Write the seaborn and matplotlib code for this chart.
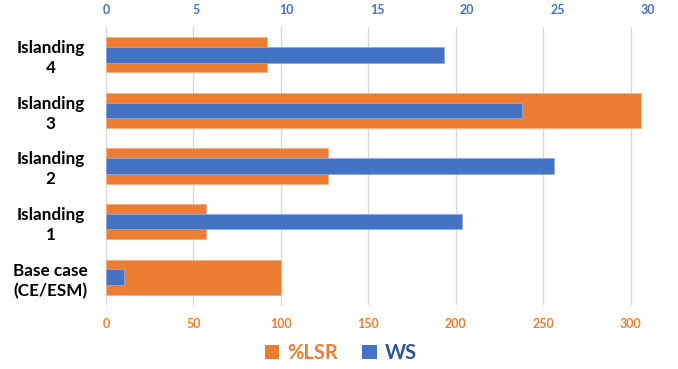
import matplotlib
matplotlib.use("Agg")
import matplotlib.pyplot as plt
from matplotlib.patches import Patch
import pandas as pd
import seaborn as sns

# Scenarios, listed top to bottom
cases = ["Islanding\n4", "Islanding\n3", "Islanding\n2", "Islanding\n1", "Base case\n(CE/ESM)"]
lsr_pct = [92, 306, 127, 57, 100]        # %LSR, bottom axis
ws_vals = [18.7, 23.0, 24.8, 19.7, 1.0]  # WS, top axis

lsr_ticks = [0, 50, 100, 150, 200, 250, 300]
ws_ticks = [0, 5, 10, 15, 20, 25, 30]

ORANGE = "#ED7D31"
BLUE = "#4472C4"
DARK_BLUE = "#2F5597"

df = pd.DataFrame({"case": cases, "lsr": lsr_pct, "ws": ws_vals})

sns.set_theme(style="white")
plt.rcParams["font.family"] = ["Lato", "DejaVu Sans"]

fig = plt.figure(figsize=(6.78, 3.69), dpi=100)
ax = fig.add_axes([106 / 678, 1 - 305 / 369, (648 - 106) / 678, (305 - 27) / 369])

sns.barplot(data=df, y="case", x="lsr", color=ORANGE, saturation=1,
            width=0.63, ax=ax, edgecolor="#F4B183", linewidth=0.6)
ax.set_xlim(0, 310)
ax.set_xticks(lsr_ticks)
ax.set_axisbelow(True)
ax.xaxis.grid(True, color="#D9D9D9", linewidth=1.0)
ax.yaxis.grid(False)

ax2 = ax.twiny()
sns.barplot(data=df, y="case", x="ws", color=BLUE, saturation=1,
            width=0.28, ax=ax2, edgecolor="#8FAADC", linewidth=0.6)
ax2.set_xlim(0, 30)
ax2.set_xticks(ws_ticks)
ax2.grid(False)

for a in (ax, ax2):
    for s in a.spines.values():
        s.set_visible(False)
    a.set_xlabel("")
    a.set_ylabel("")

ax.tick_params(axis="x", length=0, pad=9, labelsize=9, labelcolor=ORANGE)
ax2.tick_params(axis="x", length=0, pad=8, labelsize=9, labelcolor=BLUE)
for lab in ax.get_xticklabels():
    lab.set_fontweight("bold")
for lab in ax2.get_xticklabels():
    lab.set_fontweight("bold")

ax.set_yticks(range(len(cases)))
ax.set_yticklabels(cases, fontsize=12.3, fontweight="bold", color="black",
                   ha="center", linespacing=1.3)
ax.tick_params(axis="y", length=0, pad=40)
ax.set_ylim(len(cases) - 0.5, -0.5)

handles = [Patch(facecolor=ORANGE, edgecolor="none"),
           Patch(facecolor=BLUE, edgecolor="none")]
fig.legend(handles, ["%LSR", "WS"], loc="center", bbox_to_anchor=(0.503, 0.043),
           ncol=2, frameon=False, handlelength=0.7, handleheight=0.7,
           handletextpad=0.4, columnspacing=1.2,
           prop={"size": 14.5, "weight": "bold"}, labelcolor=[ORANGE, DARK_BLUE])

fig.savefig("out.png", dpi=100)
